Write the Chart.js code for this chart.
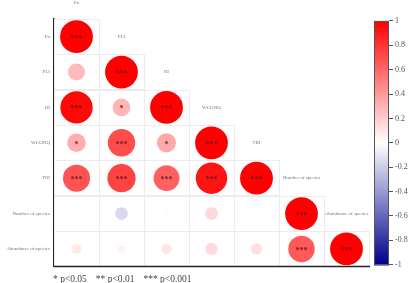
<!DOCTYPE html>
<html>
<head>
<meta charset="utf-8">
<script src="https://cdn.jsdelivr.net/npm/chart.js@4.4.1/dist/chart.umd.min.js"></script>
<style>
html,body{margin:0;padding:0;background:#fff;}
canvas{display:block;}
</style>
</head>
<body>
<canvas id="c" width="410" height="283"></canvas>
<script>
// ---- data ----
const variables = ["Pn", "PLI", "RI", "WCONQ", "TRI", "Number of species", "Abundance of species"];
// lower-triangle correlation rows (row i has i+1 values)
const corrPn    = [1];
const corrPLI   = [0.27, 1];
const corrRI    = [0.97, 0.29, 1];
const corrWCONQ = [0.32, 0.70, 0.34, 1];
const corrTRI   = [0.68, 0.74, 0.62, 0.92, 1];
const corrNum   = [0.01, -0.15, 0.02, 0.15, 0.01, 1];
const corrAbund = [0.09, 0.05, 0.10, 0.14, 0.12, 0.65, 1];
const sigPn    = ["***"];
const sigPLI   = ["", "***"];
const sigRI    = ["***", "*", "***"];
const sigWCONQ = ["*", "***", "*", "***"];
const sigTRI   = ["***", "***", "***", "***", "***"];
const sigNum   = ["", "", "", "", "", "***"];
const sigAbund = ["", "", "", "", "", "***", "***"];
const colorbarTicks = [1, 0.8, 0.6, 0.4, 0.2, 0, -0.2, -0.4, -0.6, -0.8, -1];
const legendText = ["* p<0.05", "** p<0.01", "*** p<0.001"];

const corrRows = [corrPn, corrPLI, corrRI, corrWCONQ, corrTRI, corrNum, corrAbund];
const sigRows = [sigPn, sigPLI, sigRI, sigWCONQ, sigTRI, sigNum, sigAbund];

const MAXR = 16.4;
function colorFor(v) {
  if (v >= 0) {
    const g = Math.round(255 * (1 - v));
    return `rgb(255,${g},${g})`;
  } else {
    const a = -v;
    const rg = Math.round(255 * (1 - a));
    const b = Math.round(255 - (255 - 140) * a);
    return `rgb(${rg},${rg},${b})`;
  }
}

const points = [];
corrRows.forEach((row, i) => {
  row.forEach((v, j) => {
    points.push({x: j + 1, y: i + 1, r: MAXR * Math.sqrt(Math.abs(v)), v: v, sig: sigRows[i][j]});
  });
});

const serif = '"Liberation Serif", "DejaVu Serif", serif';

const decor = {
  id: 'decor',
  beforeDatasetsDraw(chart) {
    const ctx = chart.ctx;
    const xs = chart.scales.x, ys = chart.scales.y, cb = chart.scales.cb;
    ctx.save();
    // grid of lower-triangle cells
    ctx.strokeStyle = '#ececec';
    ctx.lineWidth = 1;
    for (let i = 0; i < variables.length; i++) {
      for (let j = 0; j <= i; j++) {
        const x0 = xs.getPixelForValue(j + 0.5), x1 = xs.getPixelForValue(j + 1.5);
        const y0 = ys.getPixelForValue(i + 0.5), y1 = ys.getPixelForValue(i + 1.5);
        ctx.strokeRect(Math.round(x0) + 0.5, Math.round(y0) + 0.5, Math.round(x1 - x0), Math.round(y1 - y0));
      }
    }
    // colorbar
    const bx1 = cb.left, bx0 = bx1 - 15;
    const by0 = cb.getPixelForValue(1), by1 = cb.getPixelForValue(-1);
    const grad = ctx.createLinearGradient(0, by0, 0, by1);
    grad.addColorStop(0, colorFor(1));
    grad.addColorStop(0.25, colorFor(0.5));
    grad.addColorStop(0.5, colorFor(0));
    grad.addColorStop(0.75, colorFor(-0.5));
    grad.addColorStop(1, colorFor(-1));
    ctx.fillStyle = grad;
    ctx.fillRect(bx0, by0, bx1 - bx0, by1 - by0);
    ctx.strokeStyle = '#555';
    ctx.lineWidth = 1;
    ctx.strokeRect(bx0 + 0.5, by0 + 0.5, bx1 - bx0 - 1, by1 - by0);
    // bottom axis line
    ctx.strokeStyle = '#222';
    ctx.lineWidth = 1.5;
    ctx.beginPath();
    ctx.moveTo(xs.getPixelForValue(0.5), chart.chartArea.bottom);
    ctx.lineTo(xs.getPixelForValue(7.5) + 1, chart.chartArea.bottom);
    ctx.stroke();
    // diagonal labels (above each diagonal cell)
    ctx.fillStyle = '#777';
    ctx.font = '5px ' + serif;
    ctx.textAlign = 'center';
    ctx.textBaseline = 'middle';
    variables.forEach((name, k) => {
      ctx.fillText(name, xs.getPixelForValue(k + 1), ys.getPixelForValue(k) + (k === 0 ? 1 : 0));
    });
    // significance legend
    ctx.fillStyle = '#444';
    ctx.font = '9.5px ' + serif;
    ctx.textAlign = 'left';
    ctx.textBaseline = 'alphabetic';
    let lx = chart.chartArea.left - 1;
    legendText.forEach(t => {
      ctx.fillText(t, lx, 282);
      lx += ctx.measureText(t).width + 9;
    });
    ctx.restore();
  },
  afterDatasetsDraw(chart) {
    const ctx = chart.ctx;
    const meta = chart.getDatasetMeta(0);
    ctx.save();
    ctx.fillStyle = 'rgba(100,25,25,0.9)';
    ctx.font = 'bold 8px ' + serif;
    ctx.textAlign = 'center';
    ctx.textBaseline = 'middle';
    meta.data.forEach((el, idx) => {
      const s = points[idx].sig;
      if (s) ctx.fillText(s, el.x, el.y + 2);
    });
    ctx.restore();
  }
};

new Chart(document.getElementById('c'), {
  type: 'bubble',
  data: {
    datasets: [{
      data: points,
      backgroundColor: ctx => colorFor(ctx.raw ? ctx.raw.v : 0),
      borderWidth: 0,
      hoverRadius: 0
    }]
  },
  options: {
    responsive: false,
    devicePixelRatio: 1,
    animation: false,
    events: [],
    layout: {padding: {top: 19, bottom: 10, left: 0, right: 0}},
    plugins: {legend: {display: false}, tooltip: {enabled: false}},
    scales: {
      x: {
        type: 'linear', min: 0.5, max: 7.5 + 20 / 45, display: false
      },
      y: {
        type: 'linear', position: 'left', reverse: true, min: 0.5, max: 7.5,
        afterBuildTicks: s => { s.ticks = variables.map((_, k) => ({value: k + 1})); },
        afterFit: s => { s.width = 54; },
        ticks: {
          callback: v => variables[Math.round(v) - 1] || '',
          font: {family: serif, size: 5}, color: '#777', padding: 4
        },
        grid: {display: false, drawTicks: false},
        border: {display: true, color: '#222', width: 1.5}
      },
      cb: {
        type: 'linear', position: 'right', min: -1.016, max: 1.016,
        afterBuildTicks: s => { s.ticks = colorbarTicks.map(v => ({value: v})); },
        afterFit: s => { s.width = 21; },
        ticks: {
          callback: v => (Math.abs(v) < 1e-9 ? '0' : (Number.isInteger(v) ? String(v) : v.toFixed(1))),
          font: {family: serif, size: 8}, color: '#555', padding: 2
        },
        grid: {display: true, drawOnChartArea: false, drawTicks: true, tickLength: 4, color: '#555'},
        border: {display: false}
      }
    }
  },
  plugins: [decor]
});
</script>
</body>
</html>
